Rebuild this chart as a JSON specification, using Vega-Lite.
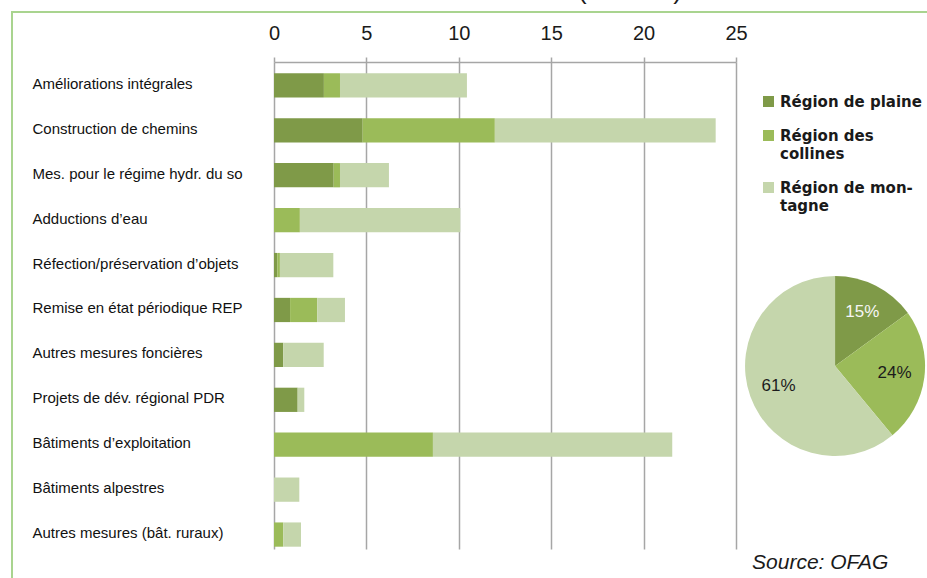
{
  "$schema": "https://vega.github.io/schema/vega-lite/v6.json",
  "autosize": "none",
  "padding": {"left": 12, "top": 12, "right": -3, "bottom": -3},
  "width": 918,
  "height": 569,
  "background": "white",
  "title": {
    "text": "(Mio. Fr.)",
    "anchor": "middle",
    "dx": 159,
    "offset": 8,
    "font": "Liberation Sans",
    "fontSize": 26,
    "fontWeight": "normal",
    "color": "#1a1a1a"
  },
  "datasets": {
    "bars": [
      {"category": "Améliorations intégrales", "region": "Région de plaine", "ord": 1, "value": 2.7},
      {"category": "Améliorations intégrales", "region": "Région des collines", "ord": 2, "value": 0.87},
      {"category": "Améliorations intégrales", "region": "Région de montagne", "ord": 3, "value": 6.87},
      {"category": "Construction de chemins", "region": "Région de plaine", "ord": 1, "value": 4.8},
      {"category": "Construction de chemins", "region": "Région des collines", "ord": 2, "value": 7.15},
      {"category": "Construction de chemins", "region": "Région de montagne", "ord": 3, "value": 11.95},
      {"category": "Mes. pour le régime hydr. du so", "region": "Région de plaine", "ord": 1, "value": 3.23},
      {"category": "Mes. pour le régime hydr. du so", "region": "Région des collines", "ord": 2, "value": 0.34},
      {"category": "Mes. pour le régime hydr. du so", "region": "Région de montagne", "ord": 3, "value": 2.65},
      {"category": "Adductions d’eau", "region": "Région des collines", "ord": 2, "value": 1.4},
      {"category": "Adductions d’eau", "region": "Région de montagne", "ord": 3, "value": 8.68},
      {"category": "Réfection/préservation d’objets", "region": "Région de plaine", "ord": 1, "value": 0.18},
      {"category": "Réfection/préservation d’objets", "region": "Région des collines", "ord": 2, "value": 0.14},
      {"category": "Réfection/préservation d’objets", "region": "Région de montagne", "ord": 3, "value": 2.89},
      {"category": "Remise en état périodique REP", "region": "Région de plaine", "ord": 1, "value": 0.87},
      {"category": "Remise en état périodique REP", "region": "Région des collines", "ord": 2, "value": 1.47},
      {"category": "Remise en état périodique REP", "region": "Région de montagne", "ord": 3, "value": 1.5},
      {"category": "Autres mesures foncières", "region": "Région de plaine", "ord": 1, "value": 0.5},
      {"category": "Autres mesures foncières", "region": "Région de montagne", "ord": 3, "value": 2.19},
      {"category": "Projets de dév. régional PDR", "region": "Région de plaine", "ord": 1, "value": 1.28},
      {"category": "Projets de dév. régional PDR", "region": "Région de montagne", "ord": 3, "value": 0.36},
      {"category": "Bâtiments d’exploitation", "region": "Région des collines", "ord": 2, "value": 8.6},
      {"category": "Bâtiments d’exploitation", "region": "Région de montagne", "ord": 3, "value": 12.95},
      {"category": "Bâtiments alpestres", "region": "Région de montagne", "ord": 3, "value": 1.37},
      {"category": "Autres mesures (bât. ruraux)", "region": "Région des collines", "ord": 2, "value": 0.5},
      {"category": "Autres mesures (bât. ruraux)", "region": "Région de montagne", "ord": 3, "value": 0.96}
    ],
    "pie": [
      {"region": "Région de plaine", "ord": 1, "share": 0.15},
      {"region": "Région des collines", "ord": 2, "share": 0.24},
      {"region": "Région de montagne", "ord": 3, "share": 0.61}
    ],
    "note": [
      {"label": "Source: OFAG"}
    ]
  },
  "layer": [
    {
      "data": {"name": "bars"},
      "mark": {"type": "bar"},
      "encoding": {
        "y": {
          "field": "category",
          "type": "nominal",
          "sort": null,
          "scale": {
            "domain": [
              "Améliorations intégrales",
              "Construction de chemins",
              "Mes. pour le régime hydr. du so",
              "Adductions d’eau",
              "Réfection/préservation d’objets",
              "Remise en état périodique REP",
              "Autres mesures foncières",
              "Projets de dév. régional PDR",
              "Bâtiments d’exploitation",
              "Bâtiments alpestres",
              "Autres mesures (bât. ruraux)"
            ],
            "range": [50, 537],
            "paddingInner": 0.46,
            "paddingOuter": 0.151,
            "align": 0.83
          },
          "axis": {
            "orient": "left",
            "offset": -20,
            "title": null,
            "domain": false,
            "ticks": false,
            "tickSize": 0,
            "grid": false,
            "labelAlign": "left",
            "labelBaseline": "middle",
            "labelPadding": 0,
            "labelLimit": 400,
            "labelFont": "Liberation Sans",
            "labelFontSize": 15,
            "labelColor": "#111111",
            "labelOffset": -1.5
          }
        },
        "x": {
          "field": "value",
          "type": "quantitative",
          "stack": "zero",
          "scale": {"domain": [0, 25], "range": [262, 724], "nice": false},
          "axis": {
            "orient": "top",
            "offset": -50,
            "title": null,
            "values": [0, 5, 10, 15, 20, 25],
            "grid": true,
            "gridColor": "#a6a6a6",
            "gridWidth": 1.5,
            "domain": true,
            "domainColor": "#a6a6a6",
            "domainWidth": 1.5,
            "ticks": true,
            "tickSize": 5,
            "tickColor": "#a6a6a6",
            "tickWidth": 1.5,
            "labelFlush": false,
            "labelOverlap": false,
            "labelPadding": 14,
            "labelFont": "Liberation Sans",
            "labelFontSize": 20,
            "labelColor": "#1a1a1a"
          }
        },
        "color": {
          "field": "region",
          "type": "nominal",
          "scale": {
            "domain": ["Région de plaine", "Région des collines", "Région de montagne"],
            "range": ["#7f9a48", "#9bbb59", "#c5d6ac"]
          },
          "legend": {
            "orient": "none",
            "legendX": 749,
            "legendY": 82,
            "direction": "vertical",
            "title": null,
            "padding": 0,
            "symbolType": "square",
            "symbolSize": 121,
            "symbolStrokeWidth": 0,
            "labelFont": "DejaVu Sans",
            "labelFontWeight": "bold",
            "labelFontSize": 15,
            "labelColor": "#1a1a1a",
            "labelOffset": 4,
            "labelLimit": 400,
            "rowPadding": 18,
            "labelExpr": "datum.value == 'Région des collines' ? ['Région des', 'collines'] : datum.value == 'Région de montagne' ? ['Région de mon-', 'tagne'] : datum.label",
            "encode": {"labels": {"update": {"lineHeight": {"value": 18}}}}
          }
        },
        "order": {"field": "ord", "type": "quantitative"}
      }
    },
    {
      "data": {"name": "pie"},
      "mark": {"type": "arc", "outerRadius": 90},
      "encoding": {
        "x": {"value": {"expr": "scale('x', 30.36)"}},
        "y": {"datum": "Autres mesures foncières", "type": "nominal", "bandPosition": 0.956},
        "theta": {"field": "share", "type": "quantitative", "stack": true},
        "color": {"field": "region", "type": "nominal"},
        "order": {"field": "ord", "type": "quantitative"}
      }
    },
    {
      "data": {"name": "pie"},
      "mark": {"type": "text", "radius": 60, "font": "Liberation Sans", "fontSize": 17, "align": "center", "baseline": "middle"},
      "encoding": {
        "x": {"value": {"expr": "scale('x', 30.36)"}},
        "y": {"datum": "Autres mesures foncières", "type": "nominal", "bandPosition": 0.956},
        "theta": {"field": "share", "type": "quantitative", "stack": true},
        "detail": {"field": "region", "type": "nominal"},
        "order": {"field": "ord", "type": "quantitative"},
        "text": {"field": "share", "type": "quantitative", "format": ".0%"},
        "color": {
          "condition": {"test": "datum.region == 'Région de plaine'", "value": "#f6f6f6"},
          "value": "#1c1c1c"
        }
      }
    },
    {
      "data": {"name": "note"},
      "mark": {"type": "text", "align": "left", "baseline": "middle", "dy": 28, "font": "Liberation Sans", "fontSize": 21, "fontStyle": "italic", "color": "#1a1a1a"},
      "encoding": {
        "x": {"datum": 25.87, "type": "quantitative"},
        "y": {"datum": "Autres mesures (bât. ruraux)", "type": "nominal"},
        "text": {"field": "label", "type": "nominal"}
      }
    }
  ],
  "config": {
    "view": {"stroke": "#a9d48f", "strokeWidth": 2},
    "font": "Liberation Sans"
  }
}
